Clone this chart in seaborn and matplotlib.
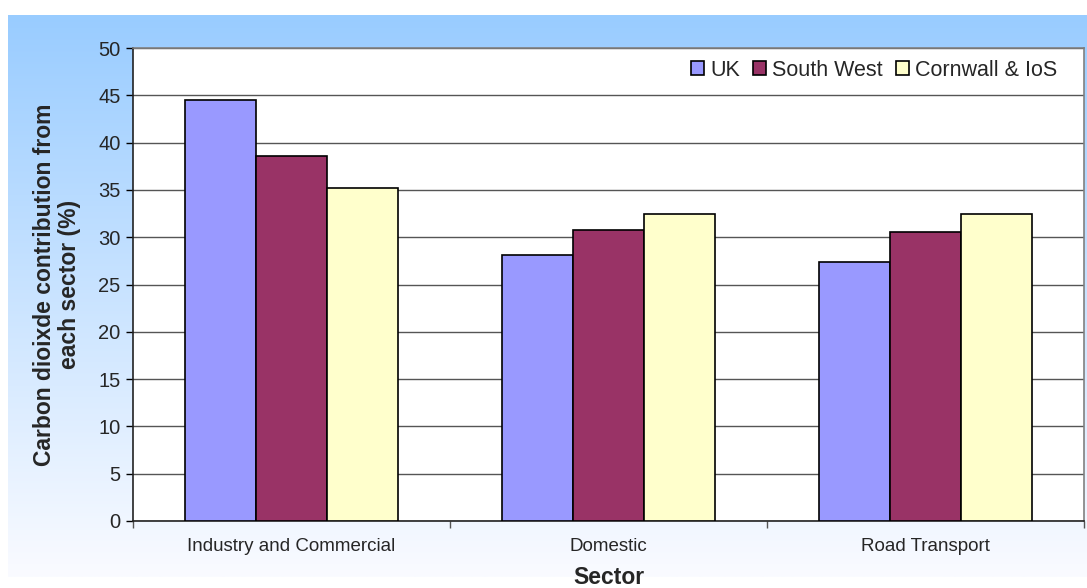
import matplotlib
matplotlib.use('Agg')
import matplotlib.pyplot as plt
import numpy as np
import pandas as pd
import seaborn as sns

# data
sectors = ['Industry and Commercial', 'Domestic', 'Road Transport']
regions = ['UK', 'South West', 'Cornwall & IoS']
uk = [44.5, 28.1, 27.4]
south_west = [38.6, 30.8, 30.6]
cornwall = [35.2, 32.4, 32.5]
colors = ['#9999FF', '#993366', '#FFFFCC']

df = pd.DataFrame({
    'Sector': sectors * 3,
    'Region': [r for r in regions for _ in sectors],
    'Value': uk + south_west + cornwall,
})

sns.set_style('white')
plt.rcParams['font.family'] = ['Liberation Sans', 'DejaVu Sans']

W, H = 1087, 588
fig = plt.figure(figsize=(W / 100, H / 100), dpi=100)

# gradient background panel
bg = fig.add_axes([8 / W, 1 - 577 / H, 1 - 8 / W, (577 - 15) / H], zorder=-10)
top = np.array([0x99, 0xCC, 0xFF]) / 255
bot = np.array([0xFA, 0xFB, 0xFF]) / 255
t = np.linspace(0, 1, 256)[:, None]
grad = top * (1 - t) + bot * t
bg.imshow(grad[:, None, :].repeat(2, axis=1), aspect='auto', extent=[0, 1, 0, 1])
bg.set_axis_off()

ax = fig.add_axes([133 / W, 1 - 521 / H, (1084 - 133) / W, (521 - 48) / H])
ax.set_facecolor('white')

sns.barplot(data=df, x='Sector', y='Value', hue='Region', hue_order=regions,
            palette=colors, width=0.67, gap=0, edgecolor='black', linewidth=1.2,
            saturation=1, ax=ax, zorder=3)

ax.set_xlim(-0.5, 2.5)
ax.set_ylim(0, 50)
ax.set_yticks(np.arange(0, 51, 5))
ax.yaxis.grid(True, color='#555555', linewidth=1, zorder=0)
ax.set_axisbelow(True)

ax.tick_params(axis='y', which='major', direction='out', length=5, width=1,
               color='black', labelsize=14.5, pad=4, left=True)
ax.tick_params(axis='x', which='major', length=0, labelsize=13.5, pad=12)
ax.set_xticks([-0.5, 0.5, 1.5, 2.5], minor=True)
ax.tick_params(axis='x', which='minor', direction='out', length=5, width=1,
               color='#555555', bottom=True)

for s in ['top', 'right']:
    ax.spines[s].set_color('#808080')
    ax.spines[s].set_linewidth(1.2)
for s in ['left', 'bottom']:
    ax.spines[s].set_color('#222222')
    ax.spines[s].set_linewidth(1.2)

ax.set_ylabel('Carbon dioixde contribution from\neach sector (%)', fontsize=16.5,
              fontweight='bold', linespacing=1.15, va='center')
ax.yaxis.set_label_coords(-(133 - 57) / (1084 - 133), 0.5)
ax.set_xlabel('Sector', fontsize=16.5, fontweight='bold')
ax.xaxis.set_label_coords(0.5, -(578 - 521) / (521 - 48))
ax.xaxis.label.set_va('center')

leg = ax.legend(title=None, loc='center right', ncol=3, frameon=False,
                bbox_to_anchor=(1066 / W, 1 - 70 / H), bbox_transform=fig.transFigure,
                fontsize=15.5, handlelength=0.6, handleheight=0.6, handletextpad=0.3,
                columnspacing=0.6, borderaxespad=0)
for h in leg.legend_handles:
    h.set_edgecolor('black')
    h.set_linewidth(1.2)

fig.savefig('out.png', dpi=100)
